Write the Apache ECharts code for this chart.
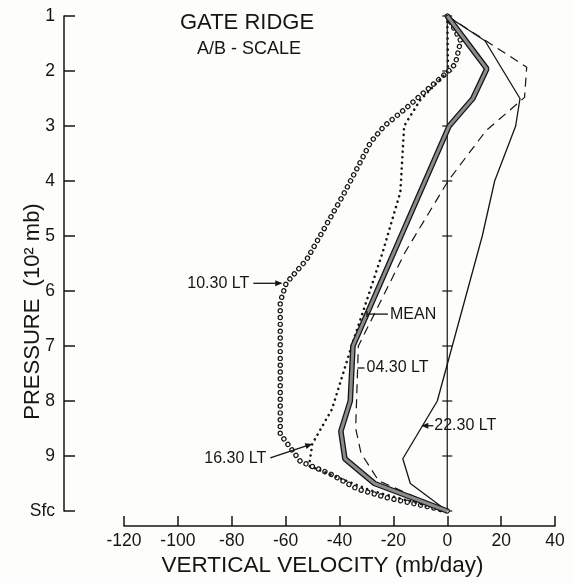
<!DOCTYPE html>
<html><head><meta charset="utf-8">
<script src="https://cdn.jsdelivr.net/npm/echarts/dist/echarts.min.js"></script>
<style>html,body{margin:0;padding:0;background:#fff}#c{width:573px;height:583px}</style>
</head><body><div id="c"></div>
<script>
// ---- data (pressure in 10^2 mb, velocity in mb/day) ----
const pressureTicks = [1, 2, 3, 4, 5, 6, 7, 8, 9, 10];
const pressureLabels = ['1', '2', '3', '4', '5', '6', '7', '8', '9', 'Sfc'];

const meanP = [1, 1.96, 2.5, 3, 7, 8, 8.55, 9.05, 9.5, 10];
const meanV = [0, 14.7, 9.5, 0.7, -35, -36, -39.5, -38, -27, 0];

const lt2230P = [1, 1.45, 2.5, 3, 4, 5, 8, 9.05, 9.5, 10];
const lt2230V = [0, 14, 27, 25.4, 17.6, 13, -3.7, -16.5, -13.7, 0];

const lt0430P = [1, 1.93, 2.48, 3.09, 4, 5.3, 7, 8.5, 8.95, 9.45, 10];
const lt0430V = [0, 29.5, 28.7, 14.3, 0.3, -15.7, -33, -34, -32, -25.5, 0];

const lt1630P = [1, 2, 2.54, 3, 4.2, 5.3, 7, 8.15, 8.78, 9.18, 9.45, 9.63, 9.81, 10];
const lt1630V = [0, 0.3, -10.2, -16, -17.4, -24, -35.5, -42.8, -50.1, -51.3, -37.5, -28.2, -14.7, 0];

const lt1030P = [1, 1.45, 1.87, 2.0, 2.7, 3.0, 3.3, 4.27, 5.43, 5.86, 6.2, 8.6, 8.8, 9.1, 9.33, 9.6, 9.76, 9.88, 10];
const lt1030V = [0, 5, 3, 0.5, -15.9, -23.4, -28.5, -38.8, -52.2, -59.8, -62, -62, -59, -54.5, -43.2, -33.4, -22.3, -11.2, 0];

const zeroLineV = [0, 0];
const zeroLineP = [1, 10];

// label anchors [velocity, pressure] on the curves
const labelTexts = ['10.30 LT', 'MEAN', '04.30 LT', '22.30 LT', '16.30 LT'];
const labelAnchorV = [-60.5, -29.8, -33.3, -10, -50.1];
const labelAnchorP = [5.86, 6.42, 7.4, 8.45, 8.78];

// ---- chart ----
const FONT = 'Liberation Sans';
const INK = '#151515';
const pts = (v, p) => v.map((x, i) => [x, p[i]]);
const chart = echarts.init(document.getElementById('c'), null, { renderer: 'canvas' });

const lineSeries = (name, v, p, ls, z) => ({
  name, type: 'line', data: pts(v, p), symbol: 'none', clip: false, z: z || 2,
  lineStyle: Object.assign({ color: INK, width: 1.2 }, ls)
});

chart.setOption({
  animation: false,
  backgroundColor: '#fdfdfb',
  textStyle: { fontFamily: FONT, color: INK },
  title: [
    { text: 'GATE RIDGE', left: 180, top: 12, padding: 0,
      textStyle: { fontSize: 22, fontWeight: 'normal', color: INK, fontFamily: FONT } },
    { text: 'A/B - SCALE', left: 197, top: 40, padding: 0,
      textStyle: { fontSize: 18, fontWeight: 'normal', color: INK, fontFamily: FONT } }
  ],
  grid: { left: 124, right: 18, top: 16, bottom: 72, containLabel: false, outerBoundsMode: 'none' },
  xAxis: {
    type: 'value', min: -120, max: 40, interval: 20, offset: 15, position: 'bottom',
    axisLine: { show: true, onZero: false, lineStyle: { color: INK, width: 1.5 } },
    axisTick: { show: true, inside: true, length: 10, lineStyle: { color: INK, width: 1.5 } },
    axisLabel: { margin: 6, fontSize: 17.5, color: INK, fontFamily: FONT },
    splitLine: { show: false },
    name: 'VERTICAL VELOCITY (mb/day)', nameLocation: 'middle', nameGap: 28, nameMoveOverlap: false,
    nameTextStyle: { fontSize: 22.5, color: INK, fontFamily: FONT, padding: [0, 34, 0, 0] }
  },
  yAxis: {
    type: 'value', min: 1, max: 10, interval: 1, inverse: true, offset: 60,
    axisLine: { show: true, onZero: false, lineStyle: { color: INK, width: 1.5 } },
    axisTick: { show: true, inside: true, length: 11, lineStyle: { color: INK, width: 1.5 } },
    axisLabel: { margin: 9, fontSize: 17.5, color: INK, fontFamily: FONT,
      formatter: v => pressureLabels[pressureTicks.indexOf(v)] },
    splitLine: { show: false },
    name: 'PRESSURE  (10² mb)', nameLocation: 'middle', nameRotate: 90, nameGap: 20, nameMoveOverlap: false,
    nameTextStyle: { fontSize: 22, color: INK, fontFamily: FONT, padding: [0, 96, 0, 0] }
  },
  series: [
    lineSeries('zero', zeroLineV, zeroLineP, { width: 1.2 }, 1),
    { name: 'zeroTicks', type: 'scatter', data: pressureTicks.map(p => [0, p]), symbol: 'rect',
      symbolSize: [10, 1.5], itemStyle: { color: INK }, z: 1, silent: true },
    lineSeries('10.30 LT', lt1030V, lt1030P, { width: 5.4, type: [0.01, 6.8], cap: 'round' }, 3),
    lineSeries('10.30 LT fill', lt1030V, lt1030P, { width: 3.0, color: '#fdfdfb', type: [0.01, 6.8], cap: 'round' }, 4),
    lineSeries('16.30 LT', lt1630V, lt1630P, { width: 2.6, type: [0.01, 5.6], cap: 'round' }, 5),
    lineSeries('04.30 LT', lt0430V, lt0430P, { width: 1.2, type: [9, 6] }, 5),
    lineSeries('22.30 LT', lt2230V, lt2230P, { width: 1.3 }, 5),
    lineSeries('MEAN', meanV, meanP, { width: 5.6 }, 6),
    lineSeries('MEAN fill', meanV, meanP, { width: 3.0, color: '#8c8c8c' }, 7)
  ]
});

// ---- annotations anchored to data points ----
const P = (v, p) => chart.convertToPixel({ gridIndex: 0 }, [v, p]);
const txt = (x, y, s, align) => ({ type: 'text', z: 20, style: { x, y, text: s, fontSize: 16, fontFamily: FONT,
  fill: INK, textAlign: align, textVerticalAlign: 'middle' } });
const seg = (x1, y1, x2, y2) => ({ type: 'line', z: 20, shape: { x1, y1, x2, y2 }, style: { stroke: INK, lineWidth: 1.3 } });
const head = (x1, y1, x2, y2) => {
  const a = Math.atan2(y2 - y1, x2 - x1), L = 7, W = 3;
  const bx = x2 - L * Math.cos(a), by = y2 - L * Math.sin(a);
  return { type: 'polygon', z: 20, shape: { points: [[x2, y2],
    [bx + W * Math.sin(a), by - W * Math.cos(a)], [bx - W * Math.sin(a), by + W * Math.cos(a)]] },
    style: { fill: INK } };
};
const g = [];
const a = labelTexts.map((t, i) => P(labelAnchorV[i], labelAnchorP[i]));
// 10.30 LT
g.push(txt(a[0][0] - 35, a[0][1], labelTexts[0], 'right'), seg(a[0][0] - 31, a[0][1], a[0][0] - 3, a[0][1]), head(a[0][0] - 31, a[0][1], a[0][0] - 2, a[0][1]));
// MEAN
g.push(seg(a[1][0], a[1][1], a[1][0] + 21, a[1][1]), seg(a[1][0], a[1][1] - 3, a[1][0], a[1][1] + 3), txt(a[1][0] + 23, a[1][1], labelTexts[1], 'left'));
// 04.30 LT
g.push(seg(a[2][0], a[2][1], a[2][0] + 7, a[2][1]), txt(a[2][0] + 9, a[2][1], labelTexts[2], 'left'));
// 22.30 LT
g.push(seg(a[3][0] + 13, a[3][1], a[3][0] + 3, a[3][1]), head(a[3][0] + 13, a[3][1], a[3][0] + 1, a[3][1]), txt(a[3][0] + 14, a[3][1], labelTexts[3], 'left'));
// 16.30 LT
g.push(txt(a[4][0] - 46, a[4][1] + 15, labelTexts[4], 'right'), seg(a[4][0] - 42, a[4][1] + 14, a[4][0] - 3, a[4][1] + 1), head(a[4][0] - 42, a[4][1] + 14, a[4][0], a[4][1]));
chart.setOption({ graphic: g });
</script>
</body></html>
